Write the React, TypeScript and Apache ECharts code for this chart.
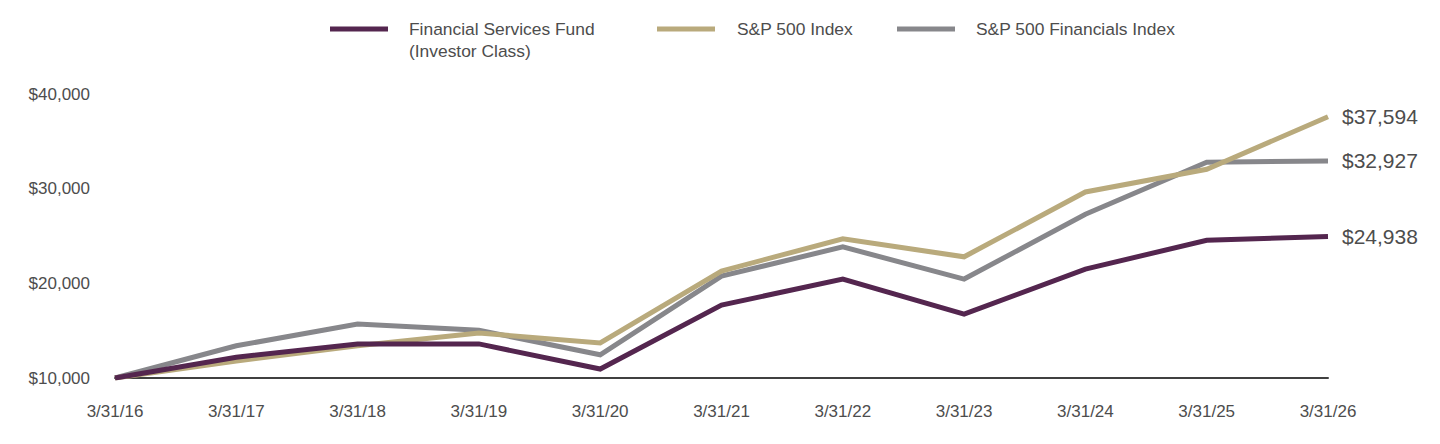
import React, { useEffect, useRef } from "react";
import * as echarts from "echarts";

const dates = [
  "3/31/16", "3/31/17", "3/31/18", "3/31/19", "3/31/20", "3/31/21",
  "3/31/22", "3/31/23", "3/31/24", "3/31/25", "3/31/26",
];

const fundName = "Financial Services Fund\n(Investor Class)";
const spName = "S&P 500 Index";
const finName = "S&P 500 Financials Index";

const fundValues = [10000, 12200, 13600, 13600, 10950, 17700, 20450, 16750, 21500, 24550, 24938];
const spValues = [10000, 11800, 13400, 14750, 13700, 21300, 24700, 22800, 29650, 32050, 37594];
const finValues = [10000, 13400, 15700, 15050, 12450, 20770, 23850, 20450, 27300, 32800, 32927];

const yTicks = [10000, 20000, 30000, 40000];

const FUND_COLOR = "#54264f";
const SP_COLOR = "#b9aa7c";
const FIN_COLOR = "#87878b";
const TEXT_COLOR = "#4d4d4d";
const FONT = "Liberation Sans, Arial, Helvetica, sans-serif";

const money = (v: number) => "$" + Math.round(v).toLocaleString("en-US");

export default function App() {
  const ref = useRef<HTMLDivElement>(null);

  useEffect(() => {
    document.body.style.margin = "0";
    if (!ref.current) return;
    const chart = echarts.init(ref.current, undefined, { renderer: "svg" });

    const lineSeries = (name: string, data: number[], color: string, z: number) => ({
      name,
      type: "line",
      data,
      z,
      symbol: "none",
      lineStyle: { color, width: 5, cap: "butt", join: "miter" },
      itemStyle: { color },
      endLabel: {
        show: true,
        distance: 14,
        formatter: (p: any) => money(p.value),
        color: TEXT_COLOR,
        fontSize: 21,
        fontFamily: FONT,
      },
    });

    const legendItems = [
      { name: fundName, color: FUND_COLOR, x: 330, textX: 409 },
      { name: spName, color: SP_COLOR, x: 657, textX: 737 },
      { name: finName, color: FIN_COLOR, x: 897, textX: 976 },
    ];

    const graphic: any[] = [];
    legendItems.forEach((it) => {
      graphic.push({
        type: "rect",
        shape: { x: it.x, y: 26.5, width: 58, height: 5 },
        style: { fill: it.color },
      });
      graphic.push({
        type: "text",
        x: it.textX,
        y: 18,
        style: {
          text: it.name,
          fill: TEXT_COLOR,
          font: `17.4px ${FONT}`,
          lineHeight: 22,
          verticalAlign: "top",
        },
      });
    });

    chart.setOption({
      animation: false,
      grid: { left: 115, right: 112, top: 94, bottom: 66, containLabel: false },
      graphic,
      xAxis: {
        type: "category",
        data: dates,
        boundaryGap: false,
        axisLine: { show: true, lineStyle: { color: "#404040", width: 2 } },
        axisTick: { show: false },
        axisLabel: {
          color: TEXT_COLOR,
          fontSize: 17,
          fontFamily: FONT,
          margin: 25,
          interval: 0,
        },
        splitLine: { show: false },
      },
      yAxis: {
        type: "value",
        min: yTicks[0],
        max: yTicks[yTicks.length - 1],
        interval: 10000,
        axisLine: { show: false },
        axisTick: { show: false },
        splitLine: { show: false },
        axisLabel: {
          color: TEXT_COLOR,
          fontSize: 17,
          fontFamily: FONT,
          margin: 25,
          formatter: (v: number) => money(v),
        },
      },
      series: [
        lineSeries(finName, finValues, FIN_COLOR, 2),
        lineSeries(spName, spValues, SP_COLOR, 3),
        lineSeries(fundName, fundValues, FUND_COLOR, 4),
      ],
    });

    return () => chart.dispose();
  }, []);

  return <div ref={ref} style={{ width: 1440, height: 444 }} />;
}
